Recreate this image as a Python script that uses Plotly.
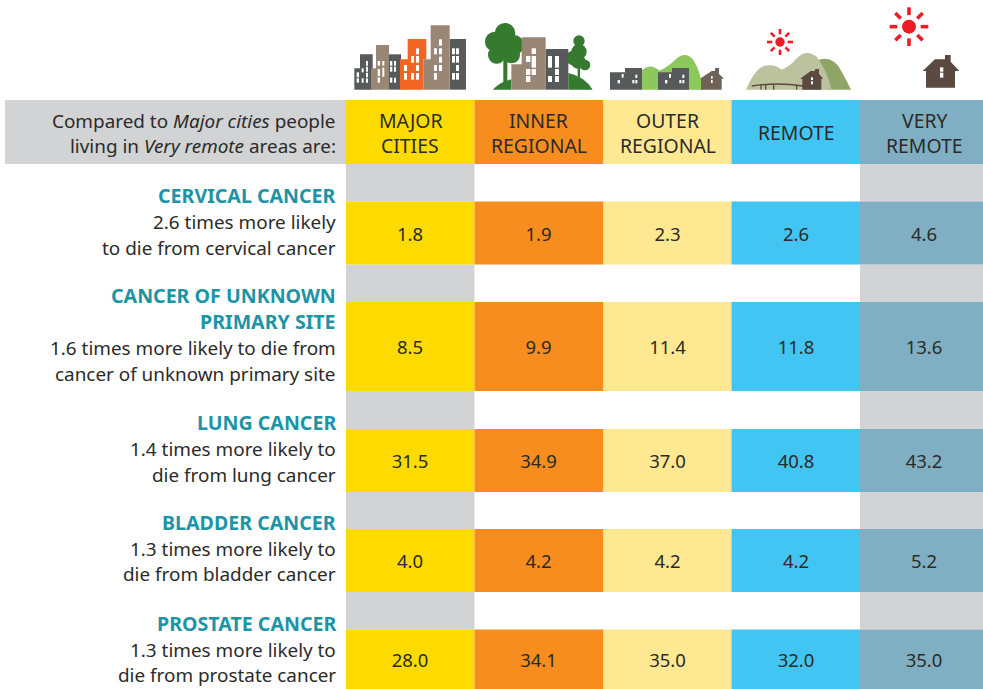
import plotly.graph_objects as go

# ---- data ----
regions = ["Major cities", "Inner regional", "Outer regional", "Remote", "Very remote"]
region_headers = [["MAJOR", "CITIES"], ["INNER", "REGIONAL"], ["OUTER", "REGIONAL"], ["REMOTE"], ["VERY", "REMOTE"]]
major_cities = [1.8, 8.5, 31.5, 4.0, 28.0]
inner_regional = [1.9, 9.9, 34.9, 4.2, 34.1]
outer_regional = [2.3, 11.4, 37.0, 4.2, 35.0]
remote = [2.6, 11.8, 40.8, 4.2, 32.0]
very_remote = [4.6, 13.6, 43.2, 5.2, 35.0]
series = [major_cities, inner_regional, outer_regional, remote, very_remote]
cancer_titles = [["CERVICAL CANCER"], ["CANCER OF UNKNOWN", "PRIMARY SITE"], ["LUNG CANCER"], ["BLADDER CANCER"], ["PROSTATE CANCER"]]
cancer_notes = [
    ["2.6 times more likely", "to die from cervical cancer"],
    ["1.6 times more likely to die from", "cancer of unknown primary site"],
    ["1.4 times more likely to", "die from lung cancer"],
    ["1.3 times more likely to", "die from bladder cancer"],
    ["1.3 times more likely to", "die from prostate cancer"],
]
intro_lines = ["Compared to <i>Major cities</i> people", "living in <i>Very remote</i> areas are:"]

# ---- layout geometry (pixels) ----
W, H = 983, 689
col_edges = [346, 474.5, 603.5, 731.5, 860, 983]
row_tops = [201.5, 302, 429, 529, 629.5]
row_bottoms = [264.5, 391, 492, 592, 689]
stub_tops = [164, 264.5, 391, 492, 592]
head_top, head_bot = 100, 164
label_x = 338
title_ys = [[195], [295, 321], [422], [522], [623]]
note_ys = [[222, 248], [348, 374], [449, 475], [549, 574], [650, 675]]
text_centers = [410, 538.5, 667.5, 796, 924]
value_shift = 3

col_colors = ["#FEDB00", "#F78D1E", "#FEE992", "#42C5F2", "#80AFC3"]
GRAY, TEAL, INK = "#D1D3D4", "#1C94A6", "#2B2A29"
FONT = "Noto Sans"
DARK, BROWN, ORANGE = "#58595B", "#998675", "#F36523"
GREEN, RED = "#357A2E", "#ED1C24"

fig = go.Figure()
centers = [(col_edges[i] + col_edges[i + 1]) / 2 for i in range(5)]
widths = [col_edges[i + 1] - col_edges[i] for i in range(5)]


def band(xs, ws, bases, heights, color):
    fig.add_trace(go.Bar(x=xs, y=heights, base=bases, width=ws, marker=dict(color=color, line=dict(width=0)),
                         hoverinfo="skip", showlegend=False))


# header
band([(5 + 346) / 2], [341], [head_top], [head_bot - head_top], GRAY)
for i in range(5):
    band([centers[i]], [widths[i]], [head_top], [head_bot - head_top], col_colors[i])
# grey stubs in first and last columns
for i in (0, 4):
    band([centers[i]] * 5, [widths[i]] * 5, stub_tops, [t - s for t, s in zip(row_tops, stub_tops)], GRAY)
# value cells
for i, vals in enumerate(series):
    band([centers[i]] * len(vals), [widths[i]] * len(vals), row_tops,
         [b - t for b, t in zip(row_bottoms, row_tops)], col_colors[i])
    fig.add_trace(go.Scatter(
        x=[text_centers[i]] * len(vals), y=[(b + t) / 2 + value_shift for b, t in zip(row_bottoms, row_tops)],
        text=[f"{v:.1f}" for v in vals], mode="text", textposition="middle center",
        textfont=dict(family=FONT, size=18.5, color=INK), hoverinfo="skip", showlegend=False, name=regions[i]))


def note(x, y, text, size, color=INK, anchor="right"):
    fig.add_annotation(x=x, y=y, text=text, showarrow=False, xanchor=anchor, yanchor="middle", xref="x", yref="y",
                       font=dict(family=FONT, size=size, color=color), align=anchor)


for line, y in zip(intro_lines, [120.5, 145.5]):
    note(label_x, y, line, 18.9)
for i, lines in enumerate(region_headers):
    ys = [120, 145] if len(lines) == 2 else [132.5]
    for line, y in zip(lines, ys):
        note(text_centers[i], y, line, 19.4, anchor="center")
for r in range(5):
    for line, y in zip(cancer_titles[r], title_ys[r]):
        note(label_x, y, f"<b>{line}</b>", 19.6, TEAL)
    for line, y in zip(cancer_notes[r], note_ys[r]):
        note(label_x, y, line, 18.9)

# ---- pictograms, traced in 3x-crop coordinates ----
shapes = []


def P(ox, pts):
    return "M" + " L".join(f"{ox + x / 3:.2f},{y / 3:.2f}" for x, y in pts) + " Z"


def poly(ox, pts, color):
    shapes.append(dict(type="path", path=P(ox, pts), fillcolor=color, line_width=0, layer="above"))


def rects(ox, rs, color="#FFFFFF"):
    for x0, y0, x1, y1 in rs:
        shapes.append(dict(type="rect", x0=ox + x0 / 3, x1=ox + x1 / 3, y0=y0 / 3, y1=y1 / 3,
                           fillcolor=color, line_width=0, layer="above"))


def curve(ox, d, color):
    out = []
    for tok in d.split():
        if tok.isalpha():
            out.append(tok)
        else:
            a, b = tok.split(",")
            out.append(f"{ox + float(a) / 3:.2f},{float(b) / 3:.2f}")
    shapes.append(dict(type="path", path=" ".join(out), fillcolor=color, line_width=0, layer="above"))


def disc(ox, cx, cy, r, color):
    shapes.append(dict(type="circle", x0=ox + (cx - r) / 3, x1=ox + (cx + r) / 3, y0=(cy - r) / 3, y1=(cy + r) / 3,
                       fillcolor=color, line_width=0, layer="above"))


def stroke(ox, pts, color, w):
    shapes.append(dict(type="path", path="M" + " L".join(f"{ox + x / 3:.2f},{y / 3:.2f}" for x, y in pts),
                       line=dict(color=color, width=w), layer="above"))


A, B = 340, 600
# major cities
poly(A, [(43, 205), (60, 205), (60, 163), (98, 163), (98, 269), (43, 269)], DARK)
poly(A, [(147, 163), (183, 163), (183, 269), (147, 269)], DARK)
poly(A, [(93, 205), (108, 205), (108, 135), (147, 135), (147, 269), (93, 269)], BROWN)
poly(A, [(329, 117), (378, 117), (378, 269), (329, 269)], DARK)
poly(A, [(250, 178), (272, 178), (272, 76), (329, 76), (329, 269), (250, 269)], BROWN)
poly(A, [(180, 178), (203, 178), (203, 117), (259, 117), (259, 178), (250, 178), (250, 269), (180, 269)], ORANGE)
rects(A, [(50, 217, 57, 232), (50, 235, 57, 248), (65, 205, 71, 217), (65, 235, 71, 248), (78, 183, 84, 197),
          (78, 200, 84, 215), (78, 218, 84, 232), (78, 235, 84, 248), (113, 183, 120, 197), (127, 183, 133, 197),
          (127, 203, 133, 230), (113, 207, 120, 228), (113, 232, 120, 248), (150, 183, 157, 197), (162, 183, 168, 197),
          (150, 200, 157, 215), (162, 200, 168, 215), (150, 233, 157, 248), (162, 233, 168, 248),
          (228, 145, 237, 163), (228, 168, 237, 188), (213, 168, 222, 188), (192, 195, 201, 213), (192, 219, 201, 239),
          (213, 219, 222, 239), (228, 195, 237, 213), (228, 219, 237, 239), (297, 118, 306, 137), (282, 145, 291, 163),
          (297, 145, 306, 163), (297, 170, 306, 188), (282, 195, 291, 213), (297, 195, 306, 213), (282, 219, 291, 239),
          (336, 145, 345, 163), (348, 145, 357, 163), (336, 168, 345, 188), (348, 168, 357, 188), (348, 195, 357, 213),
          (336, 219, 345, 239), (348, 219, 357, 239)])
# inner regional
curve(A, "M 458,269 Q 480,245 514,238 L 514,269 Z", GREEN)
curve(A, "M 685,219 Q 735,230 758,269 L 685,269 Z", GREEN)
rects(A, [(490, 175, 502, 248), (713, 190, 720, 238)], GREEN)
for c in [(495, 100, 31), (465, 125, 30), (522, 135, 30), (470, 165, 26), (515, 165, 25), (495, 140, 32),
          (717, 123, 17), (717, 155, 23), (700, 174, 22), (735, 195, 16), (715, 185, 22)]:
    disc(A, *c, GREEN)
poly(A, [(514, 193), (545, 193), (545, 112), (617, 112), (617, 269), (514, 269)], BROWN)
poly(A, [(617, 147), (685, 147), (685, 269), (617, 269)], DARK)
rects(A, [(575, 145, 588, 162), (558, 168, 571, 186), (575, 168, 588, 203), (558, 207, 571, 225), (575, 207, 588, 225),
          (558, 228, 571, 246), (624, 168, 636, 203), (645, 168, 657, 203), (645, 207, 657, 225), (624, 228, 636, 246),
          (645, 228, 657, 246)])
# outer regional
curve(B, "M 126,269 L 126,210 Q 150,188 178,212 Q 205,200 225,180 Q 255,150 280,180 Q 300,210 310,269 Z", "#8CC85C")
poly(B, [(30, 217), (75, 217), (75, 204), (126, 204), (126, 269), (30, 269)], DARK)
poly(B, [(174, 217), (216, 217), (216, 204), (267, 204), (267, 269), (174, 269)], DARK)
rects(B, [(53, 240, 60, 250), (65, 222, 71, 233), (97, 240, 103, 250), (106, 240, 112, 250), (106, 224, 112, 234),
          (195, 240, 202, 250), (207, 222, 213, 233), (238, 240, 244, 250), (247, 240, 253, 250), (247, 224, 253, 234)])
poly(B, [(300, 236), (335, 213), (345, 213), (345, 204), (357, 204), (357, 222), (372, 236), (365, 236), (365, 269),
         (303, 269), (303, 236)], "#6E6259")
rects(B, [(333, 228, 338, 236), (333, 240, 338, 249)])
# remote
curve(B, "M 655,180 Q 700,165 725,215 Q 742,245 753,269 L 680,269 Z", "#8FA568")
curve(B, "M 438,269 Q 465,205 495,197 Q 525,192 545,209 Q 570,200 590,175 Q 620,145 650,170 Q 680,210 695,269 Z", "#BBC29D")
shapes.append(dict(type="path", path=f"M{B + 455 / 3:.2f},{258 / 3:.2f} Q{B + 530 / 3:.2f},{246 / 3:.2f} {B + 610 / 3:.2f},{258 / 3:.2f}",
                   line=dict(color="#5A4A40", width=1.5), layer="above"))
for bx in (483, 497, 521, 590):
    stroke(B, [(bx, 254), (bx, 269)], "#5A4A40", 1.3)
poly(B, [(600, 236), (632, 213), (645, 213), (645, 207), (657, 207), (657, 222), (670, 236), (664, 236), (664, 269),
         (607, 269), (607, 236)], "#5A4A40")
rects(B, [(633, 232, 639, 240), (633, 244, 639, 253)])
# very remote
poly(B, [(968, 213), (1005, 178), (1035, 178), (1035, 165), (1052, 165), (1052, 185), (1078, 213), (1065, 213),
         (1065, 263), (978, 263), (978, 213)], "#5A4A40")
rects(B, [(1020, 202, 1030, 215), (1020, 218, 1030, 233)])
# suns
for cx, cy, r, r0, r1, w in [(540, 126, 14, 23, 39, 2.6), (927, 80, 21, 35, 58, 3.6)]:
    disc(B, cx, cy, r, RED)
    d = 0.7071
    for ux, uy in [(1, 0), (-1, 0), (0, 1), (0, -1), (d, d), (d, -d), (-d, d), (-d, -d)]:
        stroke(B, [(cx + ux * r0, cy + uy * r0), (cx + ux * r1, cy + uy * r1)], RED, w)

fig.update_layout(
    width=W, height=H, margin=dict(l=0, r=0, t=0, b=0), paper_bgcolor="white", plot_bgcolor="white",
    barmode="overlay", showlegend=False, shapes=shapes, hovermode=False,
    xaxis=dict(range=[0, W], visible=False, fixedrange=True),
    yaxis=dict(range=[H, 0], visible=False, fixedrange=True),
)
fig.write_html("out.html", config={"displayModeBar": False},
               post_script="document.body.style.margin='0';document.documentElement.style.overflow='hidden';")
